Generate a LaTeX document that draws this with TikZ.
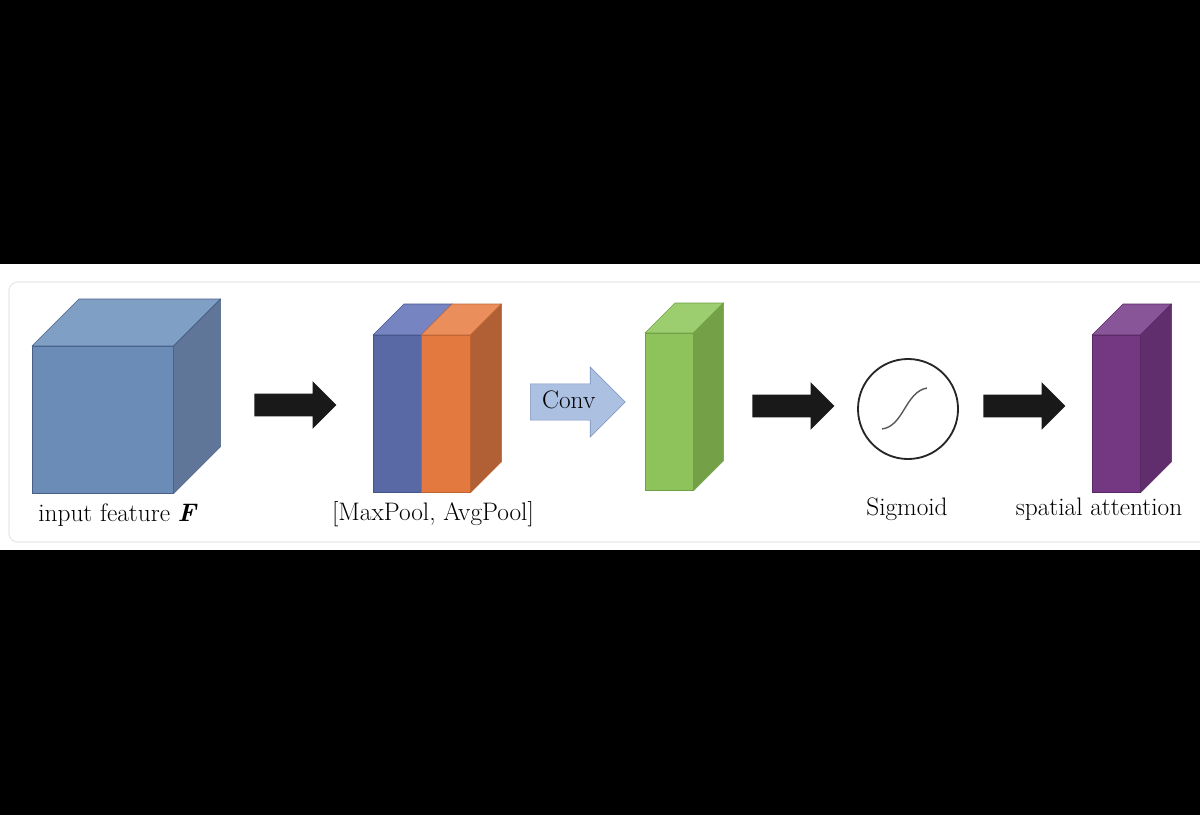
\documentclass[tikz,border=0pt]{standalone}
\usepackage{tikz}
\usetikzlibrary{shapes.arrows, positioning}

\definecolor{cubeF}{RGB}{108,140,184}
\definecolor{cubeT}{RGB}{128,159,197}
\definecolor{cubeS}{RGB}{96,118,152}
\definecolor{cubeE}{RGB}{72,96,136}
\definecolor{maxF}{RGB}{88,105,166}
\definecolor{maxT}{RGB}{118,132,194}
\definecolor{maxE}{RGB}{70,84,140}
\definecolor{avgF}{RGB}{228,121,64}
\definecolor{avgT}{RGB}{234,142,92}
\definecolor{avgS}{RGB}{176,96,52}
\definecolor{avgE}{RGB}{190,100,50}
\definecolor{convF}{RGB}{142,195,91}
\definecolor{convT}{RGB}{156,205,110}
\definecolor{convS}{RGB}{116,160,72}
\definecolor{convE}{RGB}{110,160,70}
\definecolor{attF}{RGB}{116,56,131}
\definecolor{attT}{RGB}{136,86,152}
\definecolor{attS}{RGB}{96,46,108}
\definecolor{attE}{RGB}{90,40,100}
\definecolor{arrowF}{RGB}{172,192,226}
\definecolor{arrowE}{RGB}{122,146,190}

% top and side of a block whose front face is node #1
\newcommand{\blocktop}[3]{%
  \filldraw[fill=#3T, draw=#3E, line join=round] (#1.north west) -- ++(#2,-#2)
    -- ([shift={(#2,-#2)}]#1.north east) -- (#1.north east) -- cycle;
}
\newcommand{\blockside}[3]{%
  \filldraw[fill=#3S, draw=#3E, line join=round] (#1.north east) -- ++(#2,-#2)
    -- ([shift={(#2,-#2)}]#1.south east) -- (#1.south east) -- cycle;
}

\begin{document}
\begin{tikzpicture}[x=0.025cm, y=-0.025cm,
    face/.style={draw=#1E, fill=#1F, anchor=north west, inner sep=0pt, minimum width=1.2cm, minimum height=3.925cm},
    lbl/.style={anchor=base, inner sep=0pt, font=\fontsize{18}{21}\selectfont},
    fatarrow/.style={single arrow, anchor=tail, fill=black!90, inner xsep=0pt, inner ysep=0.275cm, text height=0pt, text depth=0pt,
        minimum height=2.05cm, minimum width=1.175cm, single arrow head extend=0.3125cm, single arrow head indent=0pt},
    convarrow/.style={single arrow, anchor=tail, fill=arrowF, draw=arrowE, inner xsep=0pt, inner ysep=0.23cm, text height=0.38cm, text depth=0.05cm,
        minimum height=2.375cm, minimum width=1.75cm, single arrow head extend=0.425cm, single arrow head indent=0pt,
        font=\fontsize{18}{21}\selectfont}
]
\clip (0,0) rectangle (1200,815);
\fill[black] (0,0) rectangle (1200,815);
\fill[white] (0,264) rectangle (1200,550);
\draw[black!9, line width=0.8pt, rounded corners=6pt] (9,282) rectangle (1220,542);

% input feature cube
\node[face=cube, minimum width=3.525cm, minimum height=3.675cm] (cube) at (32,346) {};
\blocktop{cube}{47}{cube}
\blockside{cube}{47}{cube}
\node[lbl] (lcube) at (118,521) {input feature \textbf{\textit{F}}};

% pooled maps
\node[face=max] (maxp) at (373,335) {};
\blocktop{maxp}{31}{max}
\node[face=avg, minimum width=1.225cm] (avgp) at (421,335) {};
\blocktop{avgp}{31}{avg}
\blockside{avgp}{31}{avg}
\node[lbl] (lpool) at (433,520) {[MaxPool, AvgPool]};

% conv output
\node[face=conv] (convout) at (645,333) {};
\blocktop{convout}{30}{conv}
\blockside{convout}{30}{conv}

% sigmoid
\node[circle, draw=black!85, line width=1.3pt, minimum size=2.5cm] (sig) at (908,409) {};
\draw[black!65, line width=1pt] (882,429) .. controls (904,426) and (905,392) .. (927,388);
\node[lbl] (lsig) at (907,515) {Sigmoid};

% spatial attention
\node[face=att] (att) at (1092,335) {};
\blocktop{att}{31}{att}
\blockside{att}{31}{att}
\node[lbl] (latt) at (1099,515) {spatial attention};

% arrows between stages
\node[fatarrow] (a1) at (254,405) {};
\node[convarrow] (a2) at (530,402) {Conv};
\node[fatarrow] (a3) at (752,406) {};
\node[fatarrow] (a4) at (983,406) {};
\end{tikzpicture}
\end{document}
